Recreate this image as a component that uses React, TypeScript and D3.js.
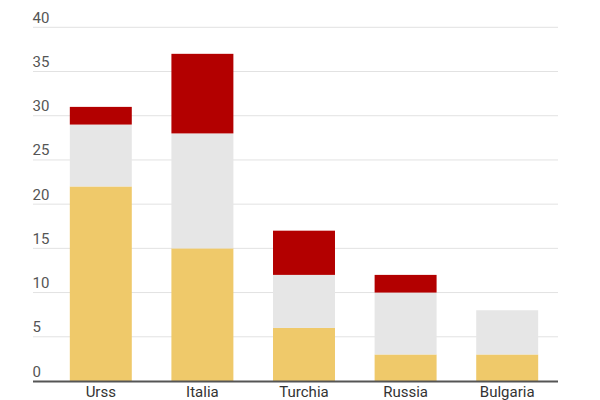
import React from "react";
import * as d3 from "d3";

const categories = ["Urss", "Italia", "Turchia", "Russia", "Bulgaria"];
const seriesGold = [22, 15, 6, 3, 3];
const seriesGrey = [7, 13, 6, 7, 5];
const seriesRed = [2, 9, 5, 2, 0];
const yTicks = [0, 5, 10, 15, 20, 25, 30, 35, 40];
const colors = ["#EFC96A", "#E6E6E6", "#B30000"];

export default function App() {
  const W = 600, H = 400;
  const x = d3.scaleBand<string>().domain(categories).range([50, 558]).paddingInner(0.39).paddingOuter(0.195);
  const y = d3.scaleLinear().domain([0, 40]).range([381, 27.3]);
  const rows = categories.map((c, i) => ({ cat: c, gold: seriesGold[i], grey: seriesGrey[i], red: seriesRed[i] }));
  const stacked = d3.stack<any>().keys(["gold", "grey", "red"])(rows);
  return (
    <svg width={W} height={H} style={{ position: "absolute", left: 0, top: 0, fontFamily: "Roboto, sans-serif" }}>
      <rect width={W} height={H} fill="#fff" />
      {yTicks.map((t) => (
        <g key={t}>
          {t > 0 && <line x1={33} x2={558} y1={y(t)} y2={y(t)} stroke="#e2e2e2" strokeWidth={1} />}
          <text x={32.5} y={y(t) - 4.5} fontSize={15} fill="#555">{t}</text>
        </g>
      ))}
      {stacked.map((s, si) => (
        <g key={si} fill={colors[si]}>
          {s.map((d, i) => d[1] - d[0] > 0 ? (
            <rect key={i} x={x(categories[i])} width={x.bandwidth()} y={y(d[1])} height={y(d[0]) - y(d[1])} />
          ) : null)}
        </g>
      ))}
      <line x1={33} x2={558} y1={y(0) + 0.5} y2={y(0) + 0.5} stroke="#555" strokeWidth={2} />
      {categories.map((c) => (
        <text key={c} x={(x(c) as number) + x.bandwidth() / 2} y={397} fontSize={15} fill="#333" textAnchor="middle">{c}</text>
      ))}
    </svg>
  );
}
